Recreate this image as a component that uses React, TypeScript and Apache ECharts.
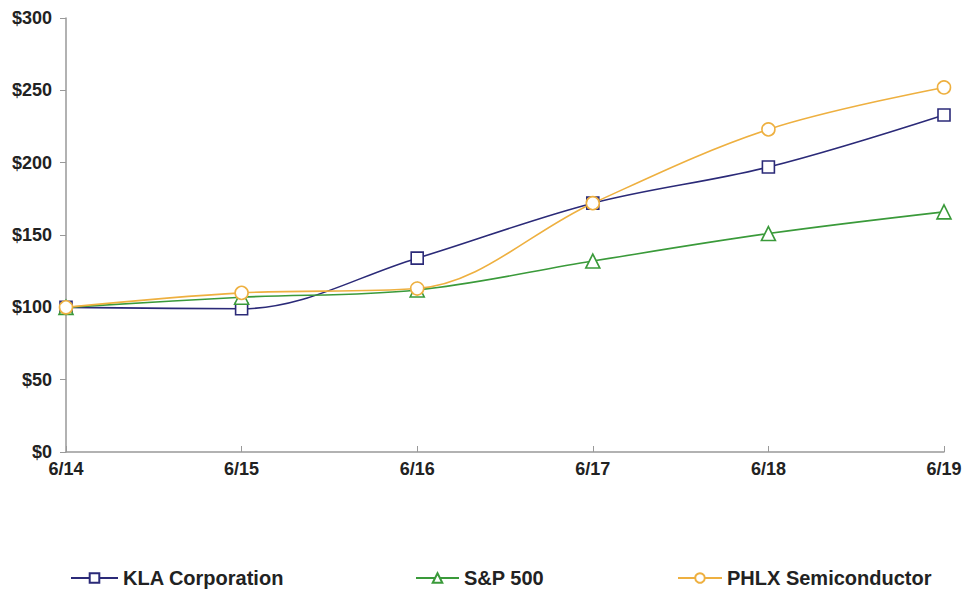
import React, { useEffect, useRef } from "react";
import * as echarts from "echarts";

const categories = ["6/14", "6/15", "6/16", "6/17", "6/18", "6/19"];
const klaValues = [100, 99, 134, 172, 197, 233];
const spValues = [100, 107, 112, 132, 151, 166];
const phlxValues = [100, 110, 113, 172, 223, 252];
const seriesNames = ["KLA Corporation", "S&P 500", "PHLX Semiconductor"];
const colors = ["#2b2a78", "#3a9a3a", "#eeb040"];

export default function App() {
  const ref = useRef<HTMLDivElement>(null);
  useEffect(() => {
    if (!ref.current) return;
    const chart = echarts.init(ref.current, null, { renderer: "svg" });
    const textStyle = { fontFamily: "Liberation Sans, Arial, sans-serif", fontWeight: "bold" as const, color: "#222" };
    const mkLegend = (name: string, left: number, w: number) => ({
      data: [name],
      left,
      top: 563,
      itemWidth: w,
      itemHeight: 12,
      itemGap: 6,
      textStyle: { ...textStyle, fontSize: 20 },
    });
    const mkSeries = (name: string, data: number[], color: string, symbol: string, size: number) => ({
      name,
      type: "line",
      data,
      smooth: 0.35,
      symbol,
      symbolSize: size,
      showSymbol: true,
      lineStyle: { color, width: 1.6 },
      itemStyle: { color: "#fff", borderColor: color, borderWidth: 1.6 },
      color,
    });
    chart.setOption({
      animation: false,
      grid: { left: 66, right: 23, top: 18, bottom: 140 },
      legend: [
        mkLegend(seriesNames[0], 65, 47),
        mkLegend(seriesNames[1], 410, 43),
        mkLegend(seriesNames[2], 672, 44),
      ],
      xAxis: {
        type: "category",
        data: categories,
        boundaryGap: false,
        axisLine: { lineStyle: { color: "#999", width: 1.5 } },
        axisTick: { show: true, inside: true, length: 6, lineStyle: { color: "#999" } },
        axisLabel: { ...textStyle, fontSize: 18, margin: 8 },
        splitLine: { show: false },
      },
      yAxis: {
        type: "value",
        min: 0,
        max: 300,
        interval: 50,
        axisLine: { show: true, lineStyle: { color: "#999", width: 1.5 } },
        axisTick: { show: true, length: 6, lineStyle: { color: "#999" } },
        axisLabel: { ...textStyle, fontSize: 18, margin: 14, formatter: (v: number) => `$${v}` },
        splitLine: { show: false },
      },
      series: [
        mkSeries(seriesNames[0], klaValues, colors[0], "rect", 12),
        mkSeries(seriesNames[1], spValues, colors[1], "triangle", 14),
        mkSeries(seriesNames[2], phlxValues, colors[2], "circle", 13),
      ],
    });
    return () => chart.dispose();
  }, []);
  return <div ref={ref} style={{ position: "absolute", left: 0, top: 0, width: 967, height: 592 }} />;
}
